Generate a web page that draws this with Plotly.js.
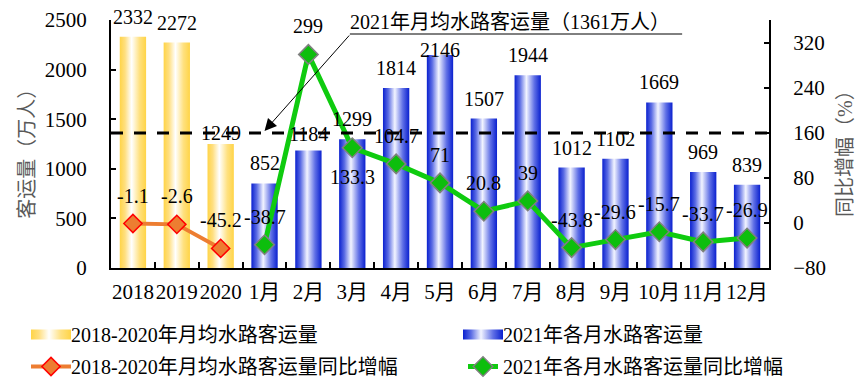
<!DOCTYPE html>
<html>
<head>
<meta charset="utf-8">
<script src="https://cdn.plot.ly/plotly-3.0.1.min.js"></script>
<style>
  html, body { margin: 0; padding: 0; background: #ffffff; }
  #chart { width: 865px; height: 384px; }
</style>
</head>
<body>
<div id="chart"></div>
<script>
// ---------------- data ----------------
const periodCats = ['2018', '2019', '2020'];
const monthCats = ['1月', '2月', '3月', '4月', '5月', '6月', '7月', '8月', '9月', '10月', '11月', '12月'];
const periodAvg = [2332, 2272, 1249];
const monthly2021 = [852, 1184, 1299, 1814, 2146, 1507, 1944, 1012, 1102, 1669, 969, 839];
const periodYoY = [-1.1, -2.6, -45.2];
const monthlyYoY = [-38.7, 299, 133.3, 104.7, 71, 20.8, 39, -43.8, -29.6, -15.7, -33.7, -26.9];
const avg2021 = 1361;

const nameAvgBar = '2018-2020年月均水路客运量';
const nameMonthBar = '2021年各月水路客运量';
const nameAvgLine = '2018-2020年月均水路客运量同比增幅';
const nameMonthLine = '2021年各月水路客运量同比增幅';
const avgNote = '2021年月均水路客运量（1361万人）';
const leftTitle = '客运量（万人）';
const rightTitle = '同比增幅（%）';

// ---------------- styling ----------------
const FONT = 'Liberation Serif, Times New Roman, Noto Sans CJK SC, serif';
const allCats = periodCats.concat(monthCats);

// label placement tweaks (pixels above value), keyed by category
const barLabelShift = { '2020': 11, '2月': 17, '5月': 5 };
const lineLabelBelow = { '3月': true };

const traces = [
  { type: 'bar', x: periodCats, y: periodAvg, name: nameAvgBar, width: 0.6,
    marker: { color: '#FFD54F', line: { width: 0 } }, legend: 'legend', legendgroup: 'g1' },
  { type: 'bar', x: monthCats, y: monthly2021, name: nameMonthBar, width: 0.6,
    marker: { color: '#1428D2', line: { width: 0 } }, legend: 'legend2', legendgroup: 'g2' },
  { type: 'scatter', mode: 'lines+markers', x: periodCats, y: periodYoY, yaxis: 'y2', name: nameAvgLine,
    line: { color: '#ED7D31', width: 4 },
    marker: { symbol: 'diamond', size: 14, color: '#ED7D31', line: { color: '#FF0000', width: 1.5 } },
    legend: 'legend', legendgroup: 'g3' },
  { type: 'scatter', mode: 'lines+markers', x: monthCats, y: monthlyYoY, yaxis: 'y2', name: nameMonthLine,
    line: { color: '#0FCB0F', width: 5 },
    marker: { symbol: 'diamond', size: 15, color: '#0DBE0D', line: { color: '#808080', width: 1.5 } },
    legend: 'legend2', legendgroup: 'g4' }
];

const annotations = [];
function barLabel(cat, v) {
  annotations.push({ x: allCats.indexOf(cat), y: v, xref: 'x', yref: 'y', text: String(v), showarrow: false,
    yanchor: 'middle', yshift: (barLabelShift[cat] !== undefined ? barLabelShift[cat] : 20),
    font: { size: 20, color: '#000' } });
}
function lineLabel(cat, v) {
  annotations.push({ x: allCats.indexOf(cat), y: v, xref: 'x', yref: 'y2', text: String(v), showarrow: false,
    yanchor: 'middle', yshift: lineLabelBelow[cat] ? -29 : 28,
    font: { size: 20, color: '#000' } });
}
periodCats.forEach((c, i) => barLabel(c, periodAvg[i]));
monthCats.forEach((c, i) => barLabel(c, monthly2021[i]));
periodCats.forEach((c, i) => lineLabel(c, periodYoY[i]));
monthCats.forEach((c, i) => lineLabel(c, monthlyYoY[i]));

// note text + arrow
annotations.push({ xref: 'paper', yref: 'paper', x: 0.606, y: 0.992, text: avgNote, showarrow: false,
  xanchor: 'center', yanchor: 'middle', font: { size: 20, color: '#000' } });
annotations.push({ xref: 'x', yref: 'y', x: allCats.indexOf('1月'), y: avg2021 + 20, text: '', showarrow: true,
  ax: 86, ay: -97, arrowhead: 2, arrowsize: 2.4, arrowwidth: 1, arrowcolor: '#000', standoff: 0 });
// axis titles
annotations.push({ xref: 'paper', yref: 'paper', x: -0.128, y: 0.48, text: leftTitle, showarrow: false,
  textangle: -90, xanchor: 'center', yanchor: 'middle', font: { size: 20, color: '#595959' } });
annotations.push({ xref: 'paper', yref: 'paper', x: 1.1155, y: 0.484, text: rightTitle, showarrow: false,
  textangle: -90, xanchor: 'center', yanchor: 'middle', font: { size: 20, color: '#595959' } });

const axisCommon = {
  showline: true, linecolor: '#000', linewidth: 2, mirror: false,
  ticks: 'inside', ticklen: 5, tickwidth: 2, tickcolor: '#000',
  showgrid: false, zeroline: false, fixedrange: true, automargin: false,
  tickfont: { size: 21, color: '#000', family: FONT }
};

const layout = {
  width: 865, height: 384,
  margin: { l: 111, r: 96, t: 20, b: 116, pad: 0, autoexpand: false },
  paper_bgcolor: '#ffffff', plot_bgcolor: '#ffffff',
  font: { family: FONT, size: 20, color: '#000' },
  barmode: 'overlay',
  showlegend: true,
  xaxis: Object.assign({}, axisCommon, {
    type: 'category', categoryorder: 'array', categoryarray: allCats, tickangle: 0,
    range: [-0.5, allCats.length - 0.5], tickson: 'boundaries', ticklen: 6, ticklabelstandoff: 4
  }),
  yaxis: Object.assign({}, axisCommon, {
    range: [0, 2500], tick0: 0, dtick: 500, ticklabelstandoff: 18
  }),
  yaxis2: Object.assign({}, axisCommon, {
    overlaying: 'y', side: 'right', range: [-80, 360], tick0: -80, dtick: 80, ticklabelstandoff: 18
  }),
  legend: { xref: 'container', yref: 'container', x: 31 / 865, y: 1 - 315 / 384,
    xanchor: 'left', yanchor: 'top', orientation: 'v', tracegroupgap: 3,
    bgcolor: 'rgba(0,0,0,0)', font: { size: 20, color: '#000', family: FONT }, itemwidth: 30 },
  legend2: { xref: 'container', yref: 'container', x: 463 / 865, y: 1 - 315 / 384,
    xanchor: 'left', yanchor: 'top', orientation: 'v', tracegroupgap: 3,
    bgcolor: 'rgba(0,0,0,0)', font: { size: 20, color: '#000', family: FONT }, itemwidth: 30 },
  shapes: [
    { type: 'line', xref: 'paper', yref: 'y', x0: 0, x1: 1, y0: avg2021, y1: avg2021,
      line: { color: '#000', width: 3, dash: '12px,11px' }, layer: 'above' },
    { type: 'line', xref: 'paper', yref: 'paper', x0: 0.363, x1: 0.868, y0: 0.9435, y1: 0.9435,
      line: { color: '#000', width: 1 } }
  ],
  annotations: annotations
};

const ns = 'http://www.w3.org/2000/svg';
function decorate(gd) {
  const svg = gd.querySelector('svg.main-svg');
  if (!svg) return;
  let defs = svg.querySelector('defs');
  if (!defs) { defs = document.createElementNS(ns, 'defs'); svg.insertBefore(defs, svg.firstChild); }
  function grad(id, stops) {
    if (defs.querySelector('#' + id)) return;
    const g = document.createElementNS(ns, 'linearGradient');
    g.setAttribute('id', id);
    g.setAttribute('x1', '0'); g.setAttribute('y1', '0'); g.setAttribute('x2', '1'); g.setAttribute('y2', '0');
    stops.forEach(s => {
      const st = document.createElementNS(ns, 'stop');
      st.setAttribute('offset', s[0]); st.setAttribute('stop-color', s[1]);
      g.appendChild(st);
    });
    defs.appendChild(g);
  }
  grad('gradYellow', [[0, '#FFD447'], [0.2, '#FFDF80'], [0.45, '#FFFFFF'], [0.75, '#FFE180'], [1, '#FFD447']]);
  grad('gradBlue', [[0, '#0A20CF'], [0.2, '#5A6BE4'], [0.45, '#F2F4FF'], [0.75, '#6070E6'], [1, '#0A20CF']]);

  const barTraces = gd.querySelectorAll('.barlayer .trace');
  barTraces.forEach((t, i) => {
    const id = i === 0 ? 'gradYellow' : 'gradBlue';
    t.querySelectorAll('path').forEach(p => { p.style.fill = 'url(#' + id + ')'; });
  });
  gd.querySelectorAll('.legendpoints path').forEach(p => {
    if (p.classList.contains('js-line') || p.classList.contains('scatterpts')) return;
    const d = p.getAttribute('d') || '';
    if (d.indexOf('M6,6H-6V-6H6Z') === 0 || p.classList.contains('legendbar')) {
      const f = p.style.fill || '';
      const id = (f.indexOf('255') >= 0 || f.indexOf('Yellow') >= 0) ? 'gradYellow' : 'gradBlue';
      p.setAttribute('d', 'M20,5H-20V-5H20Z');
      p.style.fill = 'url(#' + id + ')';
      p.style.stroke = 'none';
    }
  });
  gd.querySelectorAll('.legend path.js-line').forEach(p => { p.setAttribute('d', 'M0,0h40'); });
}

Plotly.newPlot('chart', traces, layout, { staticPlot: true, displayModeBar: false }).then(gd => {
  decorate(gd);
  gd.on && gd.on('plotly_afterplot', () => decorate(gd));
  setTimeout(() => decorate(gd), 50);
});
</script>
</body>
</html>
